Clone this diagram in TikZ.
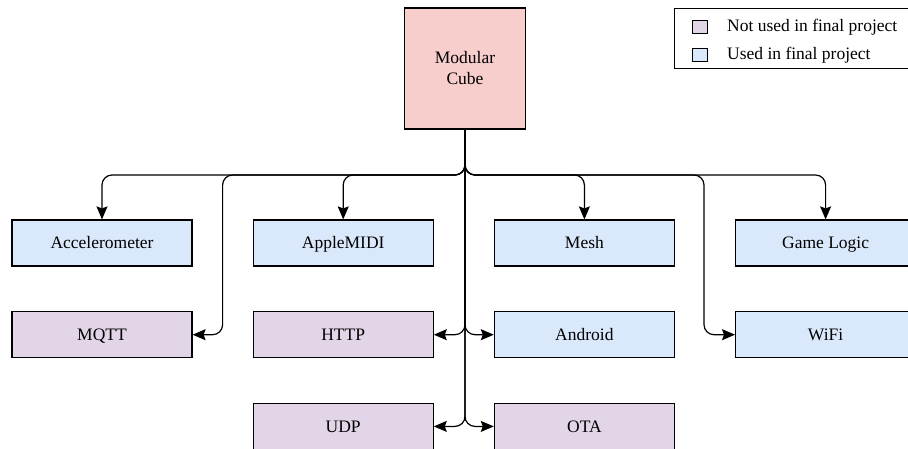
\documentclass[tikz,border=0pt]{standalone}
\usepackage{fontspec}
\setmainfont{Liberation Serif}
\usetikzlibrary{arrows.meta, calc, positioning}

\definecolor{cubered}{HTML}{F8CECC}
\definecolor{usedblue}{HTML}{DAE8FC}
\definecolor{unusedpurple}{HTML}{E1D5E7}

\begin{document}
\begin{tikzpicture}[
    x=1pt, y=-1pt,
    node distance=44.5pt and 60pt,
    font=\fontsize{17.5}{21}\selectfont,
    cube/.style={rectangle, minimum width=121pt, minimum height=121pt, 
                 align=center, draw=black, fill=cubered, line width=1.2pt},
    used/.style={rectangle, minimum width=180pt, minimum height=46pt, 
                 text height=13pt, text depth=1.5pt,
                 text centered, draw=black, fill=usedblue, line width=1.2pt},
    unused/.style={rectangle, minimum width=180pt, minimum height=46pt, 
                   text height=13pt, text depth=1.5pt,
                   text centered, draw=black, fill=unusedpurple, line width=1.2pt},
    swatch/.style={rectangle, minimum width=15pt, minimum height=13pt, 
                   inner sep=0pt, draw=black, line width=1pt},
    arrow/.style={line width=1.2pt, rounded corners=10pt, 
                  -{Stealth[length=13pt, width=11pt, inset=2pt]}}
]
\useasboundingbox (0,0) rectangle (908,448);

\node (cube) [cube] at (465,68.5) {Modular\\Cube};

\node (accel) [used] at (102,243) {Accelerometer};
\node (apple) [used, right=of accel] {AppleMIDI};
\node (mesh) [used, right=of apple] {Mesh};
\node (logic) [used, right=of mesh] {Game Logic};

\node (mqtt) [unused, below=of accel] {MQTT};
\node (http) [unused, below=of apple] {HTTP};
\node (android) [used, below=of mesh] {Android};
\node (wifi) [used, below=of logic] {WiFi};

\node (udp) [unused, below=of http] {UDP};
\node (ota) [unused, below=of android] {OTA};

% legend
\node (legend) [draw=black, line width=1pt, minimum width=241pt, minimum height=60pt, 
                anchor=north west] at (674,8) {};
\node (notusedkey) [swatch, fill=unusedpurple] at (700,27) {};
\node (usedkey) [swatch, fill=usedblue] at (700,55) {};
\node (notusedtext) [right=19pt of notusedkey, inner sep=0pt] {Not used in final project};
\node (usedtext) [right=19pt of usedkey, inner sep=0pt] {Used in final project};

\coordinate (bus) at (465,175);

\draw [arrow] (cube.south) -- (bus) -| (accel.north);
\draw [arrow] (cube.south) -- (bus) -| (apple.north);
\draw [arrow] (cube.south) -- (bus) -| (mesh.north);
\draw [arrow] (cube.south) -- (bus) -| (logic.north);
\draw [arrow] (cube.south) -- (bus) -- ($(mqtt.east |- bus)+(30,0)$) |- (mqtt.east);
\draw [arrow] (cube.south) -- (bus) -- ($(wifi.west |- bus)+(-31,0)$) |- (wifi.west);
\draw [arrow] (cube.south) |- (http.east);
\draw [arrow] (cube.south) |- (android.west);
\draw [arrow] (cube.south) |- (udp.east);
\draw [arrow] (cube.south) |- (ota.west);

\end{tikzpicture}
\end{document}
